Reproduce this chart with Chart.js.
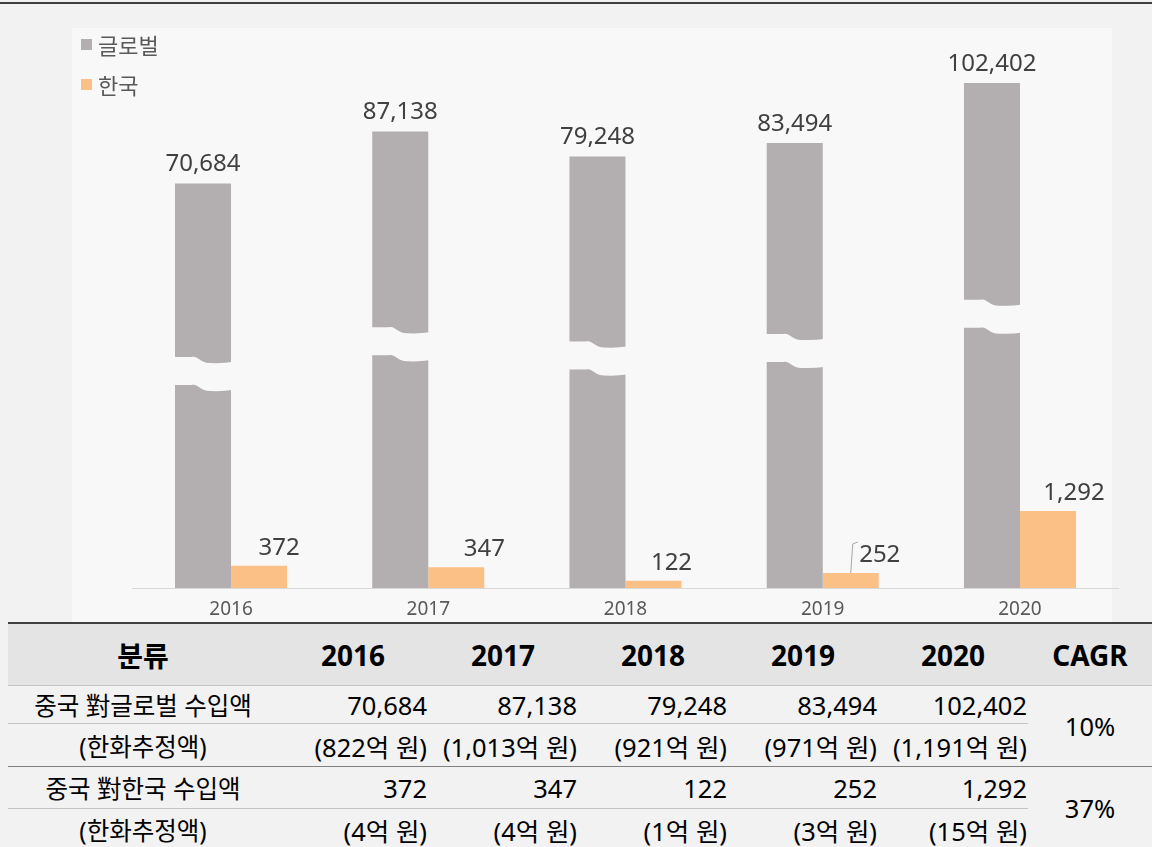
<!DOCTYPE html>
<html>
<head>
<meta charset="utf-8">
<script src="https://cdn.jsdelivr.net/npm/chart.js@4.4.1/dist/chart.umd.min.js"></script>
<style>
html,body{margin:0;padding:0;background:#f2f2f2;}
body{width:1152px;height:847px;position:relative;overflow:hidden;font-family:"Noto Sans","Noto Sans CJK KR",sans-serif;}
#topline{position:absolute;left:0;top:2px;width:1152px;height:2px;background:#404040;}
#panel{position:absolute;left:72px;top:28px;width:1040px;height:595px;background:#f8f8f8;}
#wrap{position:absolute;left:0;top:0;width:1152px;height:633px;}
#legend{position:absolute;left:81px;top:24px;font-family:"Noto Sans CJK KR","Noto Sans",sans-serif;font-size:22px;color:#595959;}
#legend .item{height:40px;display:flex;align-items:center;}
#legend .sw{width:11px;height:11px;margin-right:6px;}
#tbl{position:absolute;left:8px;top:622px;width:1144px;border-collapse:collapse;table-layout:fixed;color:#000;background:#f2f2f2;}
#tbl th,#tbl td{padding:0;margin:0;white-space:nowrap;overflow:visible;}
#tbl tr.hd th{height:61px;background:#e4e4e4;font-size:28px;font-weight:bold;text-align:center;border-top:2px solid #404040;border-bottom:1px solid #c4c4c4;}
#tbl td{font-size:25.5px;}
#tbl td.lab{text-align:center;font-size:24.5px;}
#tbl td.num{text-align:right;padding-right:1px;}
#tbl td.cagr{text-align:center;}
#tbl tr.r1 td{height:37px;border-bottom:1px solid #c4c4c4;}
#tbl tr.r2 td{height:42px;}
#tbl tr.r2 td, #tbl td.cagr.first{border-bottom:1px solid #808080;}
#tbl tr.r3 td{height:41px;border-bottom:1px solid #c4c4c4;}
#tbl tr.r4 td{height:40px;}
</style>
</head>
<body>
<div id="topline"></div>
<div id="panel"></div>
<div id="wrap"><canvas id="c" width="1152" height="633"></canvas></div>
<div id="legend"></div>
<table id="tbl"></table>
<script>
// ---- data ----
const categories = ['2016', '2017', '2018', '2019', '2020'];
const seriesNames = ['글로벌', '한국'];
const globalValues = [70684, 87138, 79248, 83494, 102402];
const koreaValues = [372, 347, 122, 252, 1292];
const globalKrw = ['822', '1,013', '921', '971', '1,191'];
const koreaKrw = ['4', '4', '1', '3', '15'];
const cagrValues = ['10%', '37%'];
const rowLabels = ['중국 對글로벌 수입액', '(한화추정액)', '중국 對한국 수입액', '(한화추정액)'];
const headerFirst = '분류';
const headerLast = 'CAGR';

// ---- styles ----
const colors = ['#b3aeaf', '#fbc086'];
const panelBg = '#f8f8f8';
const koreaLabelShift = [20, 28, 18, 29, 26];
const koreaLeader = [false, false, false, true, false];

// legend (HTML)
const lg = document.getElementById('legend');
seriesNames.forEach((n, i) => {
  const d = document.createElement('div'); d.className = 'item';
  const s = document.createElement('span'); s.className = 'sw'; s.style.background = colors[i];
  const t = document.createElement('span'); t.textContent = n;
  d.appendChild(s); d.appendChild(t); lg.appendChild(d);
});

// table
const fmt = v => v.toLocaleString('en-US');
const tbl = document.getElementById('tbl');
let html = '<colgroup><col style="width:270px">' + categories.map(() => '<col style="width:150px">').join('') + '<col style="width:124px"></colgroup>';
html += '<tr class="hd"><th>' + headerFirst + '</th>' + categories.map(c => '<th>' + c + '</th>').join('') + '<th>' + headerLast + '</th></tr>';
html += '<tr class="r1"><td class="lab">' + rowLabels[0] + '</td>' + globalValues.map(v => '<td class="num">' + fmt(v) + '</td>').join('') + '<td class="cagr first" rowspan="2">' + cagrValues[0] + '</td></tr>';
html += '<tr class="r2"><td class="lab">' + rowLabels[1] + '</td>' + globalKrw.map(v => '<td class="num">(' + v + '억 원)</td>').join('') + '</tr>';
html += '<tr class="r3"><td class="lab">' + rowLabels[2] + '</td>' + koreaValues.map(v => '<td class="num">' + fmt(v) + '</td>').join('') + '<td class="cagr" rowspan="2" style="border-bottom:none">' + cagrValues[1] + '</td></tr>';
html += '<tr class="r4"><td class="lab">' + rowLabels[3] + '</td>' + koreaKrw.map(v => '<td class="num">(' + v + '억 원)</td>').join('') + '</tr>';
tbl.innerHTML = html;

// plugin: axis breaks + data labels
const breakAndLabels = {
  id: 'breakAndLabels',
  afterDatasetsDraw(chart) {
    const ctx = chart.ctx;
    ctx.save();
    // breaks on global bars
    chart.getDatasetMeta(0).data.forEach(el => {
      const p = el.getProps(['x', 'y', 'base', 'width'], true);
      const h = p.base - p.y;
      const x0 = p.x - p.width / 2 - 1, x1 = p.x + p.width / 2 + 1, w = x1 - x0;
      const yt = p.base - 0.571 * h;
      const gap = 28, drop = 6;
      ctx.beginPath();
      ctx.moveTo(x0, yt);
      ctx.lineTo(x0 + 0.3 * w, yt);
      ctx.bezierCurveTo(x0 + 0.42 * w, yt - 1.5, x0 + 0.44 * w, yt + drop, x0 + 0.62 * w, yt + drop);
      ctx.quadraticCurveTo(x0 + 0.85 * w, yt + drop + 0.5, x1, yt + drop - 1);
      ctx.lineTo(x1, yt + drop - 1 + gap);
      ctx.quadraticCurveTo(x0 + 0.85 * w, yt + drop + 0.5 + gap, x0 + 0.62 * w, yt + drop + gap);
      ctx.bezierCurveTo(x0 + 0.44 * w, yt + drop + gap, x0 + 0.42 * w, yt - 1.5 + gap, x0 + 0.3 * w, yt + gap);
      ctx.lineTo(x0, yt + gap);
      ctx.closePath();
      ctx.fillStyle = panelBg;
      ctx.fill();
    });
    // labels
    ctx.font = '24px "Noto Sans", "Open Sans", sans-serif';
    ctx.fillStyle = '#404040';
    ctx.textBaseline = 'middle';
    ctx.textAlign = 'center';
    chart.getDatasetMeta(0).data.forEach((el, i) => {
      const p = el.getProps(['x', 'y'], true);
      ctx.fillText(fmt(globalValues[i]), p.x, p.y - 19);
    });
    chart.getDatasetMeta(1).data.forEach((el, i) => {
      const p = el.getProps(['x', 'y'], true);
      const lx = p.x + koreaLabelShift[i];
      const ly = p.y - 18;
      if (koreaLeader[i]) {
        ctx.strokeStyle = '#a6a6a6';
        ctx.lineWidth = 1;
        ctx.beginPath();
        ctx.moveTo(p.x, p.y);
        ctx.lineTo(p.x + 2, p.y - 29);
        ctx.lineTo(p.x + 7, p.y - 31);
        ctx.stroke();
      }
      ctx.fillStyle = '#404040';
      ctx.fillText(fmt(koreaValues[i]), lx, ly);
    });
    ctx.restore();
  }
};

new Chart(document.getElementById('c'), {
  type: 'bar',
  data: {
    labels: categories,
    datasets: [
      { label: seriesNames[0], data: globalValues, backgroundColor: colors[0], yAxisID: 'yGlobal', base: -57000 },
      { label: seriesNames[1], data: koreaValues, backgroundColor: colors[1], yAxisID: 'yKorea' }
    ]
  },
  options: {
    responsive: false,
    devicePixelRatio: 1,
    animation: false,
    events: [],
    categoryPercentage: 0.568,
    barPercentage: 1.0,
    layout: { padding: { left: 132.4, right: 33.4, top: 40, bottom: 2.2 } },
    plugins: { legend: { display: false }, tooltip: { enabled: false }, title: { display: false } },
    scales: {
      x: {
        grid: { display: false, drawTicks: false },
        border: { display: true, color: '#d9d9d9', width: 1 },
        ticks: { color: '#595959', font: { family: '"Noto Sans", "Open Sans", sans-serif', size: 19 }, padding: 10 }
      },
      yGlobal: { display: false, min: -57000, max: 116000 },
      yKorea: { display: false, min: 0, max: 9200 }
    }
  },
  plugins: [breakAndLabels]
});
</script>
</body>
</html>
